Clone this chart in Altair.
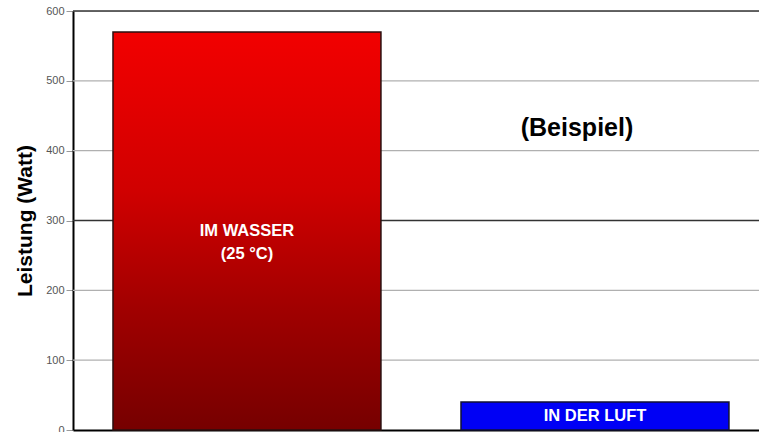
import altair as alt
import pandas as pd

categories = ["IM WASSER", "IN DER LUFT"]
values = [570, 40]
bar_labels = ["IM WASSER\n(25 °C)", "IN DER LUFT"]
grid_values = [100, 200, 300, 400, 500, 600]
grid_strong = [False, False, True, False, False, True]
y_title = "Leistung (Watt)"
note = "(Beispiel)"

df = pd.DataFrame({"cat": categories, "value": values, "label": bar_labels})
grid_df = pd.DataFrame({"v": grid_values, "strong": grid_strong})

FONT = "Liberation Sans"

x_scale = alt.Scale(domain=categories, paddingInner=0.23, paddingOuter=0.1006, align=0.571)
y_scale = alt.Scale(domain=[0, 600], nice=False)

x_enc = alt.X("cat:N", scale=x_scale,
              axis=alt.Axis(title=None, labels=False, ticks=False, domain=True,
                            domainColor="#000", domainWidth=2, grid=False))
y_axis = alt.Axis(title=y_title, values=grid_values + [0], grid=False,
                  domainColor="#000", domainWidth=2,
                  tickColor="#999", tickSize=7, labelColor="#555",
                  labelFontSize=11, labelFont=FONT, labelPadding=2,
                  titleFont=FONT, titleFontSize=21, titleFontWeight="bold",
                  titleColor="#000", titlePadding=10)

grid = alt.Chart(grid_df).mark_rule().encode(
    y=alt.Y("v:Q", scale=y_scale, axis=y_axis),
    color=alt.condition("datum.strong", alt.value("#333333"), alt.value("#b0b0b0")),
    strokeWidth=alt.condition("datum.strong", alt.value(1.5), alt.value(1.2)),
)

red_grad = alt.Gradient(
    gradient="linear", x1=0, x2=0, y1=0, y2=1,
    stops=[alt.GradientStop(color="#f20000", offset=0),
           alt.GradientStop(color="#d00000", offset=0.4),
           alt.GradientStop(color="#a00000", offset=0.7),
           alt.GradientStop(color="#760000", offset=1)],
)

red = alt.Chart(df).transform_filter(alt.datum.cat == categories[0]).mark_bar(
    fill=red_grad, stroke="#2a1010", strokeWidth=1.5
).encode(x=x_enc, y=alt.Y("value:Q", scale=y_scale, axis=y_axis))

blue = alt.Chart(df).transform_filter(alt.datum.cat == categories[1]).mark_bar(
    fill="#0000f5", stroke="#111133", strokeWidth=1.5
).encode(x=x_enc, y=alt.Y("value:Q", scale=y_scale, axis=y_axis))

labels = alt.Chart(df).transform_calculate(mid="datum.value / 2").mark_text(
    font=FONT, fontSize=16.5, fontWeight="bold", color="white",
    lineBreak="\n", lineHeight=23, baseline="middle"
).encode(x=x_enc, y=alt.Y("mid:Q", scale=y_scale, axis=y_axis), text="label:N")

note_layer = alt.Chart(pd.DataFrame({"t": [note]})).mark_text(
    font=FONT, fontSize=25, fontWeight="bold", color="#000", baseline="middle"
).encode(x=alt.value(504), y=alt.value(117), text="t:N")

chart = alt.layer(grid, red, blue, labels, note_layer).properties(
    width=686, height=419,
    autosize=alt.AutoSizeParams(type="none"),
    padding={"left": 73, "top": 11, "right": 0, "bottom": 2},
).configure_view(stroke=None).configure(background="white")

chart.save("out.html", embed_options={"renderer": "svg", "actions": False})
